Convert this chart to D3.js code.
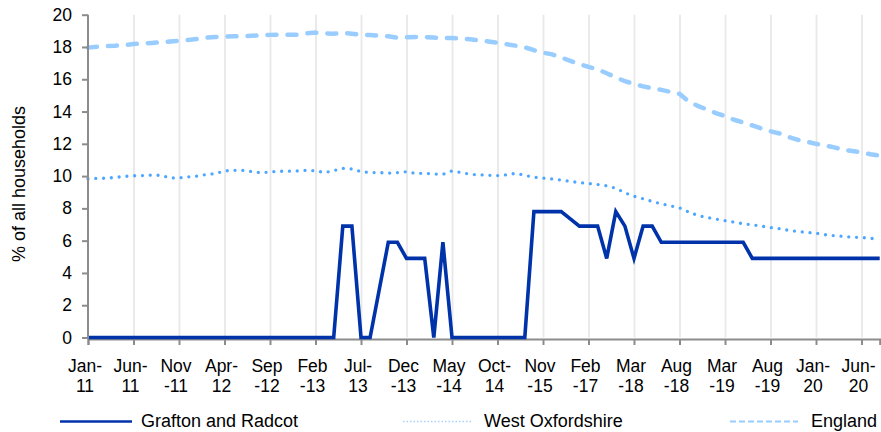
<!DOCTYPE html>
<html lang="en">
<head>
<meta charset="UTF-8">
<title>% of all households</title>
<script src="https://d3js.org/d3.v7.min.js"></script>
<style>
  html, body { margin: 0; padding: 0; background: #fff; }
  svg { display: block; font-family: "Liberation Sans", Arial, sans-serif; }
  .axis path, .axis line { stroke: #8c8c8c; stroke-width: 2; }
  .axis text { fill: #000; font-size: 17.5px; }
  .grid line { stroke: #e8e8e8; stroke-width: 1.8; }
  .grid path { display: none; }
</style>
</head>
<body>
<div id="chart"></div>
<script>
// categories (months, the series has gaps after Oct-14)
var categories = [
  "Jan-11","Feb-11","Mar-11","Apr-11","May-11","Jun-11","Jul-11","Aug-11","Sep-11","Oct-11","Nov-11","Dec-11",
  "Jan-12","Feb-12","Mar-12","Apr-12","May-12","Jun-12","Jul-12","Aug-12","Sep-12","Oct-12","Nov-12","Dec-12",
  "Jan-13","Feb-13","Mar-13","Apr-13","May-13","Jun-13","Jul-13","Aug-13","Sep-13","Oct-13","Nov-13","Dec-13",
  "Jan-14","Feb-14","Mar-14","Apr-14","May-14","Jun-14","Jul-14","Aug-14","Sep-14","Oct-14",
  "Jan-15","Apr-15","Jul-15","Sep-15","Nov-15","Feb-16","May-16","Aug-16","Nov-16",
  "Feb-17","May-17","Aug-17","Nov-17","Feb-18","Mar-18","Apr-18","May-18","Jun-18","Jul-18","Aug-18",
  "Sep-18","Oct-18","Nov-18","Feb-19","Mar-19","Apr-19","May-19","Jun-19","Jul-19","Aug-19",
  "Sep-19","Oct-19","Nov-19","Dec-19","Jan-20","Feb-20","Mar-20","Apr-20","May-20","Jun-20","Jul-20","Aug-20"
];

// tick labels as Excel wraps them (every 5th category)
var tickLabels = [
  ["Jan-","11"],["Jun-","11"],["Nov","-11"],["Apr-","12"],["Sep","-12"],["Feb","-13"],
  ["Jul-","13"],["Dec","-13"],["May","-14"],["Oct-","14"],["Nov","-15"],["Feb","-17"],
  ["Mar","-18"],["Aug","-18"],["Mar","-19"],["Aug","-19"],["Jan-","20"],["Jun-","20"]
];

var yTicks = [0, 2, 4, 6, 8, 10, 12, 14, 16, 18, 20];

var grafton = [
  0,0,0,0,0,0,0,0,0,0, 0,0,0,0,0,0,0,0,0,0, 0,0,0,0,0,0,0,0,
  6.9,6.9,0,0,2.95,5.9,5.9,4.9,4.9,4.9,0,5.9,0,
  0,0,0,0,0,0,0,0,
  7.8,7.8,7.8,7.8,7.35,6.9,6.9,6.9,4.9,7.8,6.9,4.9,6.9,6.9,
  5.9,5.9,5.9,5.9,5.9,5.9,5.9,5.9,5.9,5.9,
  4.9,4.9,4.9,4.9,4.9,4.9,4.9,4.9,4.9,4.9,4.9,4.9,4.9,4.9,4.9
];

var westOxfordshire = [
  9.82, 9.86, 9.87, 9.92, 9.98, 10.02, 10.03, 10.06, 10.05, 9.89,
  9.89, 9.95, 10.0, 10.1, 10.16, 10.32, 10.36, 10.35, 10.28, 10.21,
  10.25, 10.3, 10.3, 10.32, 10.36, 10.33, 10.22, 10.34, 10.48, 10.44,
  10.28, 10.22, 10.22, 10.18, 10.22, 10.27, 10.17, 10.17, 10.13, 10.11,
  10.32, 10.22, 10.11, 10.08, 10.05, 10.03, 10.08, 10.17, 10.05, 9.93,
  9.88, 9.82, 9.76, 9.67, 9.6, 9.54, 9.48, 9.4, 9.25, 8.97,
  8.75, 8.6, 8.43, 8.28, 8.16, 8.03, 7.78, 7.56, 7.44, 7.34,
  7.24, 7.15, 7.05, 6.98, 6.9, 6.81, 6.74, 6.64, 6.57, 6.51,
  6.46, 6.37, 6.31, 6.27, 6.21, 6.2, 6.14, 6.1
];

var england = [
  17.96, 18.02, 18.06, 18.08, 18.12, 18.18, 18.22, 18.25, 18.29, 18.34,
  18.39, 18.43, 18.5, 18.58, 18.62, 18.64, 18.66, 18.67, 18.69, 18.72,
  18.75, 18.76, 18.76, 18.76, 18.84, 18.89, 18.84, 18.82, 18.88, 18.82,
  18.76, 18.74, 18.7, 18.66, 18.58, 18.61, 18.62, 18.62, 18.58, 18.56,
  18.55, 18.52, 18.48, 18.41, 18.34, 18.26, 18.17, 18.08, 17.98, 17.8,
  17.65, 17.54, 17.35, 17.14, 16.94, 16.77, 16.61, 16.37, 16.12, 15.88,
  15.71, 15.56, 15.45, 15.34, 15.22, 15.1, 14.62, 14.35, 14.13, 13.9,
  13.72, 13.49, 13.32, 13.14, 12.95, 12.78, 12.64, 12.42, 12.25, 12.13,
  12.0, 11.9, 11.78, 11.64, 11.55, 11.47, 11.35, 11.27
];

var W = 881, H = 432;
var plotLeft = 88, plotRight = 879.7, plotTop = 14.7, plotBottom = 337.5;

var svg = d3.select("#chart").append("svg")
  .attr("width", W).attr("height", H);

var x = d3.scalePoint().domain(categories).range([plotLeft, plotRight]);
var y = d3.scaleLinear().domain([0, 20]).range([plotBottom, plotTop]);

var tickCats = categories.filter(function(d, i) { return i % 5 === 0; });

// vertical gridlines
svg.append("g")
  .attr("class", "grid")
  .attr("transform", "translate(0," + plotTop + ")")
  .call(d3.axisBottom(x).tickValues(tickCats.slice(1)).tickSize(plotBottom - plotTop).tickFormat(""));

// series
var line = d3.line()
  .x(function(d, i) { return x(categories[i]); })
  .y(function(d) { return y(d); });

svg.append("path").datum(england)
  .attr("fill", "none").attr("stroke", "#99ccff")
  .attr("stroke-width", 4.5).attr("stroke-linecap", "round")
  .attr("stroke-dasharray", "9 11")
  .attr("d", line);

svg.append("path").datum(westOxfordshire)
  .attr("fill", "none").attr("stroke", "#4da6ff")
  .attr("stroke-width", 3.3).attr("stroke-linecap", "round")
  .attr("stroke-dasharray", "0 7.8")
  .attr("d", line);

// x axis
var xAxis = svg.append("g")
  .attr("class", "axis")
  .attr("transform", "translate(0," + (plotBottom + 1.5) + ")")
  .call(d3.axisBottom(x).tickValues(tickCats).tickSizeOuter(0).tickSize(6).tickFormat(""));

xAxis.selectAll(".tick").each(function(d, i) {
  var t = d3.select(this).append("text")
    .attr("text-anchor", "middle")
    .attr("x", -3.5);
  t.append("tspan").attr("x", -3.5).attr("y", 33).text(tickLabels[i][0]);
  t.append("tspan").attr("x", -3.5).attr("y", 53).text(tickLabels[i][1]);
});

svg.append("path").datum(grafton)
  .attr("fill", "none").attr("stroke", "#0033aa")
  .attr("stroke-width", 3.6)
  .attr("d", line);

// y axis
var yAxis = svg.append("g")
  .attr("class", "axis")
  .attr("transform", "translate(" + plotLeft + ",0)")
  .call(d3.axisLeft(y).tickValues(yTicks).tickSize(6).tickSizeOuter(0).tickPadding(10));
yAxis.select(".domain").attr("d", "M0," + plotTop + "V" + (plotBottom + 1.5));

svg.append("text")
  .attr("transform", "translate(25,184) rotate(-90)")
  .attr("text-anchor", "middle")
  .style("font-size", "18px")
  .text("% of all households");

// legend
var legend = [
  { name: "Grafton and Radcot", x1: 60, x2: 132, tx: 141, color: "#0033aa", w: 2.7, dash: null },
  { name: "West Oxfordshire", x1: 403, x2: 472, tx: 484, color: "#a6d2ff", w: 1.5, dash: "1.5 2" },
  { name: "England", x1: 730, x2: 798, tx: 811, color: "#99ccff", w: 2.2, dash: "6 3" }
];
var lg = svg.append("g").selectAll("g").data(legend).enter().append("g");
lg.append("line")
  .attr("x1", function(d) { return d.x1; }).attr("x2", function(d) { return d.x2; })
  .attr("y1", 421.5).attr("y2", 421.5)
  .attr("stroke", function(d) { return d.color; })
  .attr("stroke-width", function(d) { return d.w; })
  .attr("stroke-dasharray", function(d) { return d.dash; });
lg.append("text")
  .attr("x", function(d) { return d.tx; })
  .attr("y", 427)
  .style("font-size", "18px")
  .text(function(d) { return d.name; });
</script>
</body>
</html>
